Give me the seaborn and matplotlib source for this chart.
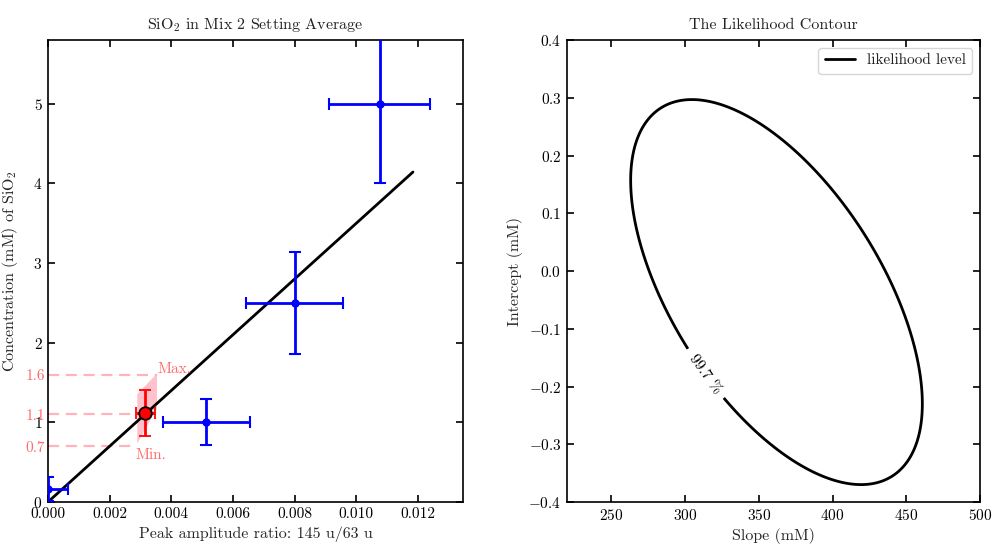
import numpy as np
import pandas as pd
import matplotlib
matplotlib.use("Agg")
import matplotlib.pyplot as plt
import seaborn as sns

# --- calibration measurements (ratio 145 u / 63 u vs SiO2 concentration) ---
ratio = [0.0000, 0.00514, 0.0080, 0.01076]
ratio_err = [0.00065, 0.0014, 0.00158, 0.00164]
conc = [0.16, 1.0, 2.5, 5.0]
conc_err = [0.15, 0.29, 0.64, 0.99]

# --- fitted straight line ---
fit_slope = 350.0      # mM
fit_intercept = 0.0    # mM

# --- unknown sample ---
sample_ratio = 0.00316
sample_ratio_err = 0.0003
sample_conc = 1.12
sample_conc_err = 0.29
band_x = [0.00288, 0.00352]
band_lo = [0.74, 1.18]
band_hi = [1.36, 1.62]
marker_levels = [1.6, 1.1, 0.7]
marker_labels = ["1.6", "1.1", "0.7"]
marker_ends = [0.00352, 0.00316, 0.00287]

# --- likelihood of (slope, intercept) ---
like_center = [362.0, -0.0365]
like_sigma = [29.0, 0.0978]
like_rho = -0.58
conf_level = 0.997
conf_label = "99.7 %"

sns.set_theme(style="ticks")
plt.rcParams.update({
    "font.family": ["cmr10", "DejaVu Serif"],
    "mathtext.fontset": "cm",
    "axes.formatter.use_mathtext": True,
    "axes.unicode_minus": True,
    "font.size": 11,
    "axes.titlesize": 11.5,
    "axes.labelsize": 11.5,
    "xtick.labelsize": 11,
    "ytick.labelsize": 11,
    "legend.fontsize": 11,
    "xtick.direction": "in",
    "ytick.direction": "in",
    "xtick.top": True,
    "ytick.right": True,
    "axes.edgecolor": "black",
    "axes.linewidth": 1.2,
    "xtick.color": "black",
    "ytick.color": "black",
    "text.color": "#222222",
})

fig = plt.figure(figsize=(9.93, 5.45), dpi=100)
ax1 = fig.add_axes([0.0483, 0.0789, 0.418, 0.8477])
ax2 = fig.add_axes([0.571, 0.0789, 0.416, 0.8477])

# ---------------- left panel: calibration ----------------
pink = "#ffb3bd"
lred = "#ff6b6b"

ax1.fill_between(band_x, band_lo, band_hi, color="#ff9aaa", alpha=0.6,
                 linewidth=0, zorder=1)
for lev, xe in zip(marker_levels, marker_ends):
    ax1.plot([0, xe], [lev, lev], ls=(0, (5, 3)), color=pink, lw=1.6, zorder=1)

fit_x = np.array([0.0, max(ratio) * 1.1])
fit_df = pd.DataFrame({"x": fit_x, "y": fit_slope * fit_x + fit_intercept})
sns.lineplot(data=fit_df, x="x", y="y", color="black", lw=2, ax=ax1, zorder=3)

ax1.errorbar(ratio, conc, xerr=ratio_err, yerr=conc_err, fmt="o", ms=5,
             color="blue", ecolor="blue", elinewidth=2, capsize=4,
             capthick=1.5, zorder=4, clip_on=True)
ax1.errorbar([sample_ratio], [sample_conc], xerr=[sample_ratio_err],
             yerr=[sample_conc_err], fmt="o", ms=9, mfc="red", mec="black",
             mew=1.3, ecolor="red", elinewidth=2, capsize=4, capthick=1.5,
             zorder=5)

ax1.text(band_x[1] + 0.00002, marker_levels[0] - 0.02, "Max.", color=lred,
         ha="left", va="bottom", fontsize=11)
ax1.text(band_x[0] - 0.00003, marker_levels[2] - 0.03, "Min.", color=lred,
         ha="left", va="top", fontsize=11)

ax1.set_xlim(0, 0.01346)
ax1.set_ylim(0, 5.8)
ax1.set_xticks(np.arange(0, 0.0121, 0.002))
ax1.xaxis.set_major_formatter(matplotlib.ticker.FormatStrFormatter("%.3f"))
ax1.set_yticks([0, 1, 2, 3, 4, 5])
ax1.set_yticks(marker_levels, labels=marker_labels, minor=True)
ax1.tick_params(axis="y", which="minor", colors=pink, labelcolor=lred,
                length=5, width=1.2, left=True, right=False, pad=2)
ax1.tick_params(which="major", length=5, width=1.2, pad=4)
ax1.set_xlabel("Peak amplitude ratio: 145 u/63 u")
ax1.set_ylabel(r"Concentration (mM) of SiO$_2$")
ax1.set_title(r"SiO$_2$ in Mix 2 Setting Average", pad=8)

# ---------------- right panel: likelihood contour ----------------
s = np.linspace(220, 500, 600)
b = np.linspace(-0.4, 0.4, 600)
S, B = np.meshgrid(s, b)
zs = (S - like_center[0]) / like_sigma[0]
zb = (B - like_center[1]) / like_sigma[1]
chi2 = (zs**2 - 2 * like_rho * zs * zb + zb**2) / (1 - like_rho**2)
level = -2 * np.log(1 - conf_level)

cs = ax2.contour(S, B, chi2, levels=[level], colors="black", linewidths=2)
ax2.clabel(cs, fmt={level: conf_label}, inline=True, fontsize=11,
           inline_spacing=8, manual=[(318, -0.17)])
ax2.plot([], [], color="black", lw=2, label="likelihood level")
ax2.legend(loc="upper right", frameon=True, fancybox=True, framealpha=0.8)

ax2.set_xlim(220, 500)
ax2.set_ylim(-0.4, 0.4)
ax2.set_xticks(np.arange(250, 501, 50))
ax2.set_yticks(np.round(np.arange(-0.4, 0.41, 0.1), 1))
ax2.tick_params(which="major", length=5, width=1.2, pad=4)
ax2.set_xlabel("Slope (mM)")
ax2.set_ylabel("Intercept (mM)")
ax2.set_title("The Likelihood Contour", pad=8)

fig.savefig("out.png", dpi=100)
